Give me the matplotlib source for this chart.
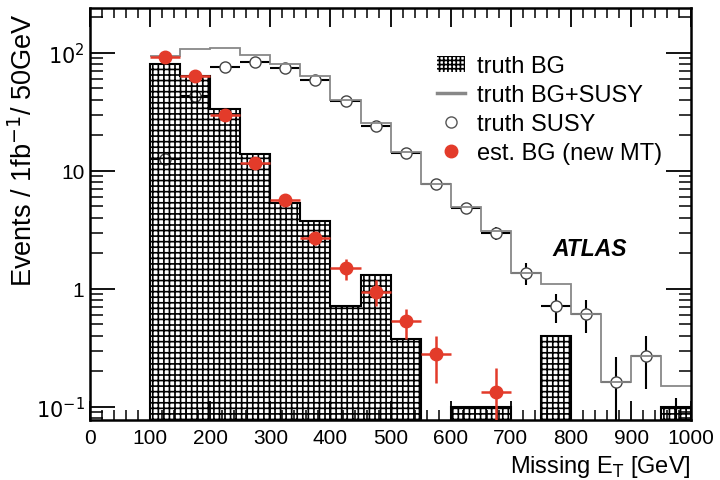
import numpy as np
import matplotlib.pyplot as plt
from matplotlib.patches import Patch
from matplotlib.lines import Line2D
from matplotlib.ticker import FixedLocator, FixedFormatter, MultipleLocator, LogLocator, NullFormatter

plt.rcParams['font.family'] = ['Liberation Sans', 'DejaVu Sans']
plt.rcParams['hatch.linewidth'] = 1.2

# 50 GeV bins of missing ET
edges = np.arange(100, 1001, 50)
centers = edges[:-1] + 25

truth_bg = [80.7, 64.0, 33.5, 13.9, 5.4, 3.8, 0.71, 1.31, 0.38, 0.0,
            0.1, 0.1, 0.0, 0.4, 0.0, 0.0, 0.0, 0.1]
truth_susy = [12.6, 43.0, 76.5, 83.0, 74.6, 59.4, 39.4, 24.2, 14.2, 7.76,
              4.85, 2.98, 1.37, 0.71, 0.61, 0.164, 0.272, 0.05]
truth_susy_err = [1.0, 1.8, 2.4, 2.5, 2.4, 2.1, 1.7, 1.3, 1.0, 0.7,
                  0.55, 0.4, 0.28, 0.2, 0.19, 0.1, 0.13, 0.07]

# estimated background (new MT), bins 100-700 GeV
est_bg = [91.9, 64.2, 29.8, 11.7, 5.7, 2.69, 1.50, 0.95, 0.53, 0.28, np.nan, 0.135]
est_bg_err = [2.0, 2.0, 1.5, 0.8, 0.45, 0.35, 0.3, 0.23, 0.15, 0.12, np.nan, 0.08]

bg = np.array(truth_bg)
susy = np.array(truth_susy)
total = bg + susy

HATCH = '+++'
RED = '#e33b2a'

fig = plt.figure(figsize=(7.2, 4.81), dpi=100)
ax = fig.add_axes([0.125, 0.1254, 0.835, 0.8553])
ax.set_yscale('log')

# truth SUSY points (drawn first, the BG hatch covers the low bins)
ax.errorbar(centers, susy, xerr=25, yerr=truth_susy_err, fmt='o', ms=8,
            mfc='white', mec='#444444', mew=1.0, ecolor='black', elinewidth=1.5,
            capsize=0, zorder=2)

# hatched truth background
bg_draw = np.where(bg > 0, bg, 1e-3)
ax.bar(edges[:-1], bg_draw, width=50, align='edge', bottom=1e-3,
       facecolor='none', edgecolor='black', linewidth=0, hatch=HATCH, zorder=3)
ax.stairs(bg_draw, edges, baseline=1e-3, color='black', linewidth=1.5, zorder=4)

# background + signal
ax.stairs(total, edges, baseline=None, color='#888888', linewidth=1.3, zorder=2.5)

# estimated background
n = len(est_bg)
ax.errorbar(centers[:n], est_bg, xerr=25, yerr=est_bg_err, fmt='o', ms=9,
            color=RED, mec=RED, elinewidth=1.8, capsize=0, zorder=5)

ax.set_xlim(0, 1000)
ax.set_ylim(0.078, 239)

ax.xaxis.set_major_locator(MultipleLocator(100))
ax.xaxis.set_minor_locator(MultipleLocator(20))
ax.yaxis.set_major_locator(FixedLocator([0.1, 1, 10, 100]))
ax.yaxis.set_major_formatter(FixedFormatter(['$10^{-1}$', '1', '10', '$10^{2}$']))
ax.yaxis.set_minor_locator(LogLocator(base=10, subs=np.arange(2, 10)))
ax.yaxis.set_minor_formatter(NullFormatter())

ax.tick_params(which='both', direction='in', top=True, right=True, labelsize=15)
ax.tick_params(axis='x', which='major', length=14, width=1.3, pad=6)
ax.tick_params(axis='x', which='minor', length=7, width=1.1)
ax.tick_params(axis='y', which='major', length=18, width=1.3, pad=4)
ax.tick_params(axis='y', which='minor', length=9, width=1.1)
for s in ax.spines.values():
    s.set_linewidth(1.8)

ax.set_ylabel('Events / 1fb$^{-1}$/ 50GeV', fontsize=19.5)
ax.yaxis.set_label_coords(-0.087, 0.658)
ax.set_xlabel(r'Missing E$_{\mathrm{T}}$ [GeV]', fontsize=17, loc='right')

ax.text(0.77, 0.415, 'ATLAS', transform=ax.transAxes, fontsize=16.5,
        fontweight='bold', fontstyle='italic', va='center')

handles = [
    Patch(facecolor='none', edgecolor='black', linewidth=0, hatch=HATCH + '+'),
    Line2D([], [], color='#888888', linewidth=2.5),
    Line2D([], [], ls='none', marker='o', ms=8, mfc='white', mec='#555555'),
    Line2D([], [], ls='none', marker='o', ms=9, color=RED),
]
labels = ['truth BG', 'truth BG+SUSY', 'truth SUSY', 'est. BG (new MT)']
ax.legend(handles, labels, loc='upper left', bbox_to_anchor=(0.557, 0.915),
          frameon=False, fontsize=17, handlelength=1.2, handletextpad=0.5,
          labelspacing=0.3, borderpad=0)

fig.savefig('out.png', dpi=100)
